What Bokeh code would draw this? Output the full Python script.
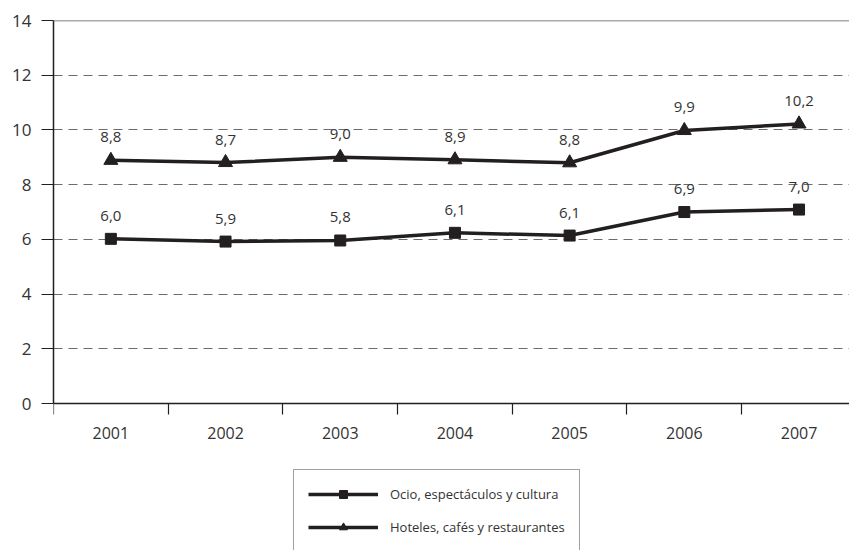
from bokeh.plotting import figure
from bokeh.models import (ColumnDataSource, FixedTicker, Range1d, Legend, LegendItem, Span)
from bokeh.core.properties import value
from bokeh.embed import file_html
from bokeh.resources import INLINE

years = ["2001", "2002", "2003", "2004", "2005", "2006", "2007"]
ocio = [6.02, 5.92, 5.96, 6.24, 6.14, 7.0, 7.09]
ocio_labels = ["6,0", "5,9", "5,8", "6,1", "6,1", "6,9", "7,0"]
hoteles = [8.89, 8.81, 9.0, 8.91, 8.80, 9.98, 10.22]
hoteles_labels = ["8,8", "8,7", "9,0", "8,9", "8,8", "9,9", "10,2"]
series_names = ["Ocio, espectáculos y cultura", "Hoteles, cafés y restaurantes"]
y_ticks = [0, 2, 4, 6, 8, 10, 12, 14]

FONT = "Open Sans"
INK = "#231f20"
TXT = "#333333"

xpos = [i + 0.5 for i in range(len(years))]
src_o = ColumnDataSource(dict(x=xpos, y=ocio, lab=ocio_labels))
src_h = ColumnDataSource(dict(x=xpos, y=hoteles, lab=hoteles_labels))

# frame runs to the bottom of the page; value 0 sits 147 px above it
p = figure(width=849, height=550, output_backend="svg", toolbar_location=None,
           x_range=Range1d(0, 6.94), y_range=Range1d(-5.37, 14),
           min_border_left=53, min_border_right=0, min_border_top=20, min_border_bottom=0)
p.outline_line_color = None
p.background_fill_color = "white"
p.border_fill_color = "white"

# y axis
p.yaxis.ticker = FixedTicker(ticks=y_ticks)
p.yaxis.bounds = (y_ticks[0], y_ticks[-1])
p.yaxis.major_tick_out = 12
p.yaxis.major_tick_in = 0
p.yaxis.minor_tick_line_color = None
p.yaxis.axis_line_color = INK
p.yaxis.axis_line_width = 1.5
p.yaxis.major_tick_line_color = INK
p.yaxis.major_tick_line_width = 1.2
p.yaxis.major_label_text_font = FONT
p.yaxis.major_label_text_font_size = "17px"
p.yaxis.major_label_text_color = TXT
p.yaxis.major_label_standoff = 10

# x axis, pinned at value 0
p.xaxis.fixed_location = 0
p.xaxis.ticker = FixedTicker(ticks=xpos, minor_ticks=list(range(len(years) + 1)))
p.xaxis.major_label_overrides = {x: y for x, y in zip(xpos, years)}
p.xaxis.major_tick_out = 0
p.xaxis.major_tick_in = 0
p.xaxis.major_tick_line_color = None
p.xaxis.minor_tick_out = 11
p.xaxis.minor_tick_in = 0
p.xaxis.minor_tick_line_color = INK
p.xaxis.minor_tick_line_width = 1.2
p.xaxis.axis_line_color = INK
p.xaxis.axis_line_width = 1.5
p.xaxis.major_label_text_font = FONT
p.xaxis.major_label_text_font_size = "16px"
p.xaxis.major_label_text_color = TXT
p.xaxis.major_label_standoff = 12

# grid
p.xgrid.grid_line_color = None
p.ygrid.ticker = FixedTicker(ticks=y_ticks[1:-1])
p.ygrid.grid_line_color = "#6b6b6b"
p.ygrid.grid_line_width = 1.2
p.ygrid.grid_line_dash = "9 6"
p.add_layout(Span(location=y_ticks[-1], dimension="width", line_color="#555555", line_width=1.5))

# series
lo = p.line("x", "y", source=src_o, line_color=INK, line_width=3.5)
mo = p.scatter("x", "y", source=src_o, marker="square", size=11, fill_color=INK, line_color=INK)
lh = p.line("x", "y", source=src_h, line_color=INK, line_width=3.5)
mh = p.scatter("x", "y", source=src_h, marker="triangle", size=14, fill_color=INK, line_color=INK)

for s in (src_o, src_h):
    p.text("x", "y", text="lab", source=s, text_align="center", text_baseline="middle",
           y_offset=-23, text_font=value(FONT), text_font_size="15px", text_color=TXT)

legend = Legend(items=[LegendItem(label=series_names[0], renderers=[lo, mo]),
                       LegendItem(label=series_names[1], renderers=[lh, mh])],
                location=(240, -2))
legend.glyph_width = 70
legend.glyph_height = 20
legend.label_standoff = 12
legend.padding = 14
legend.spacing = 13
legend.margin = 0
legend.border_line_color = "#444444"
legend.border_line_width = 1.2
legend.label_text_font = FONT
legend.label_text_font_size = "13px"
legend.label_text_color = TXT
legend.background_fill_color = "white"
p.add_layout(legend, "center")

open("out.html", "w").write(file_html(p, INLINE))
